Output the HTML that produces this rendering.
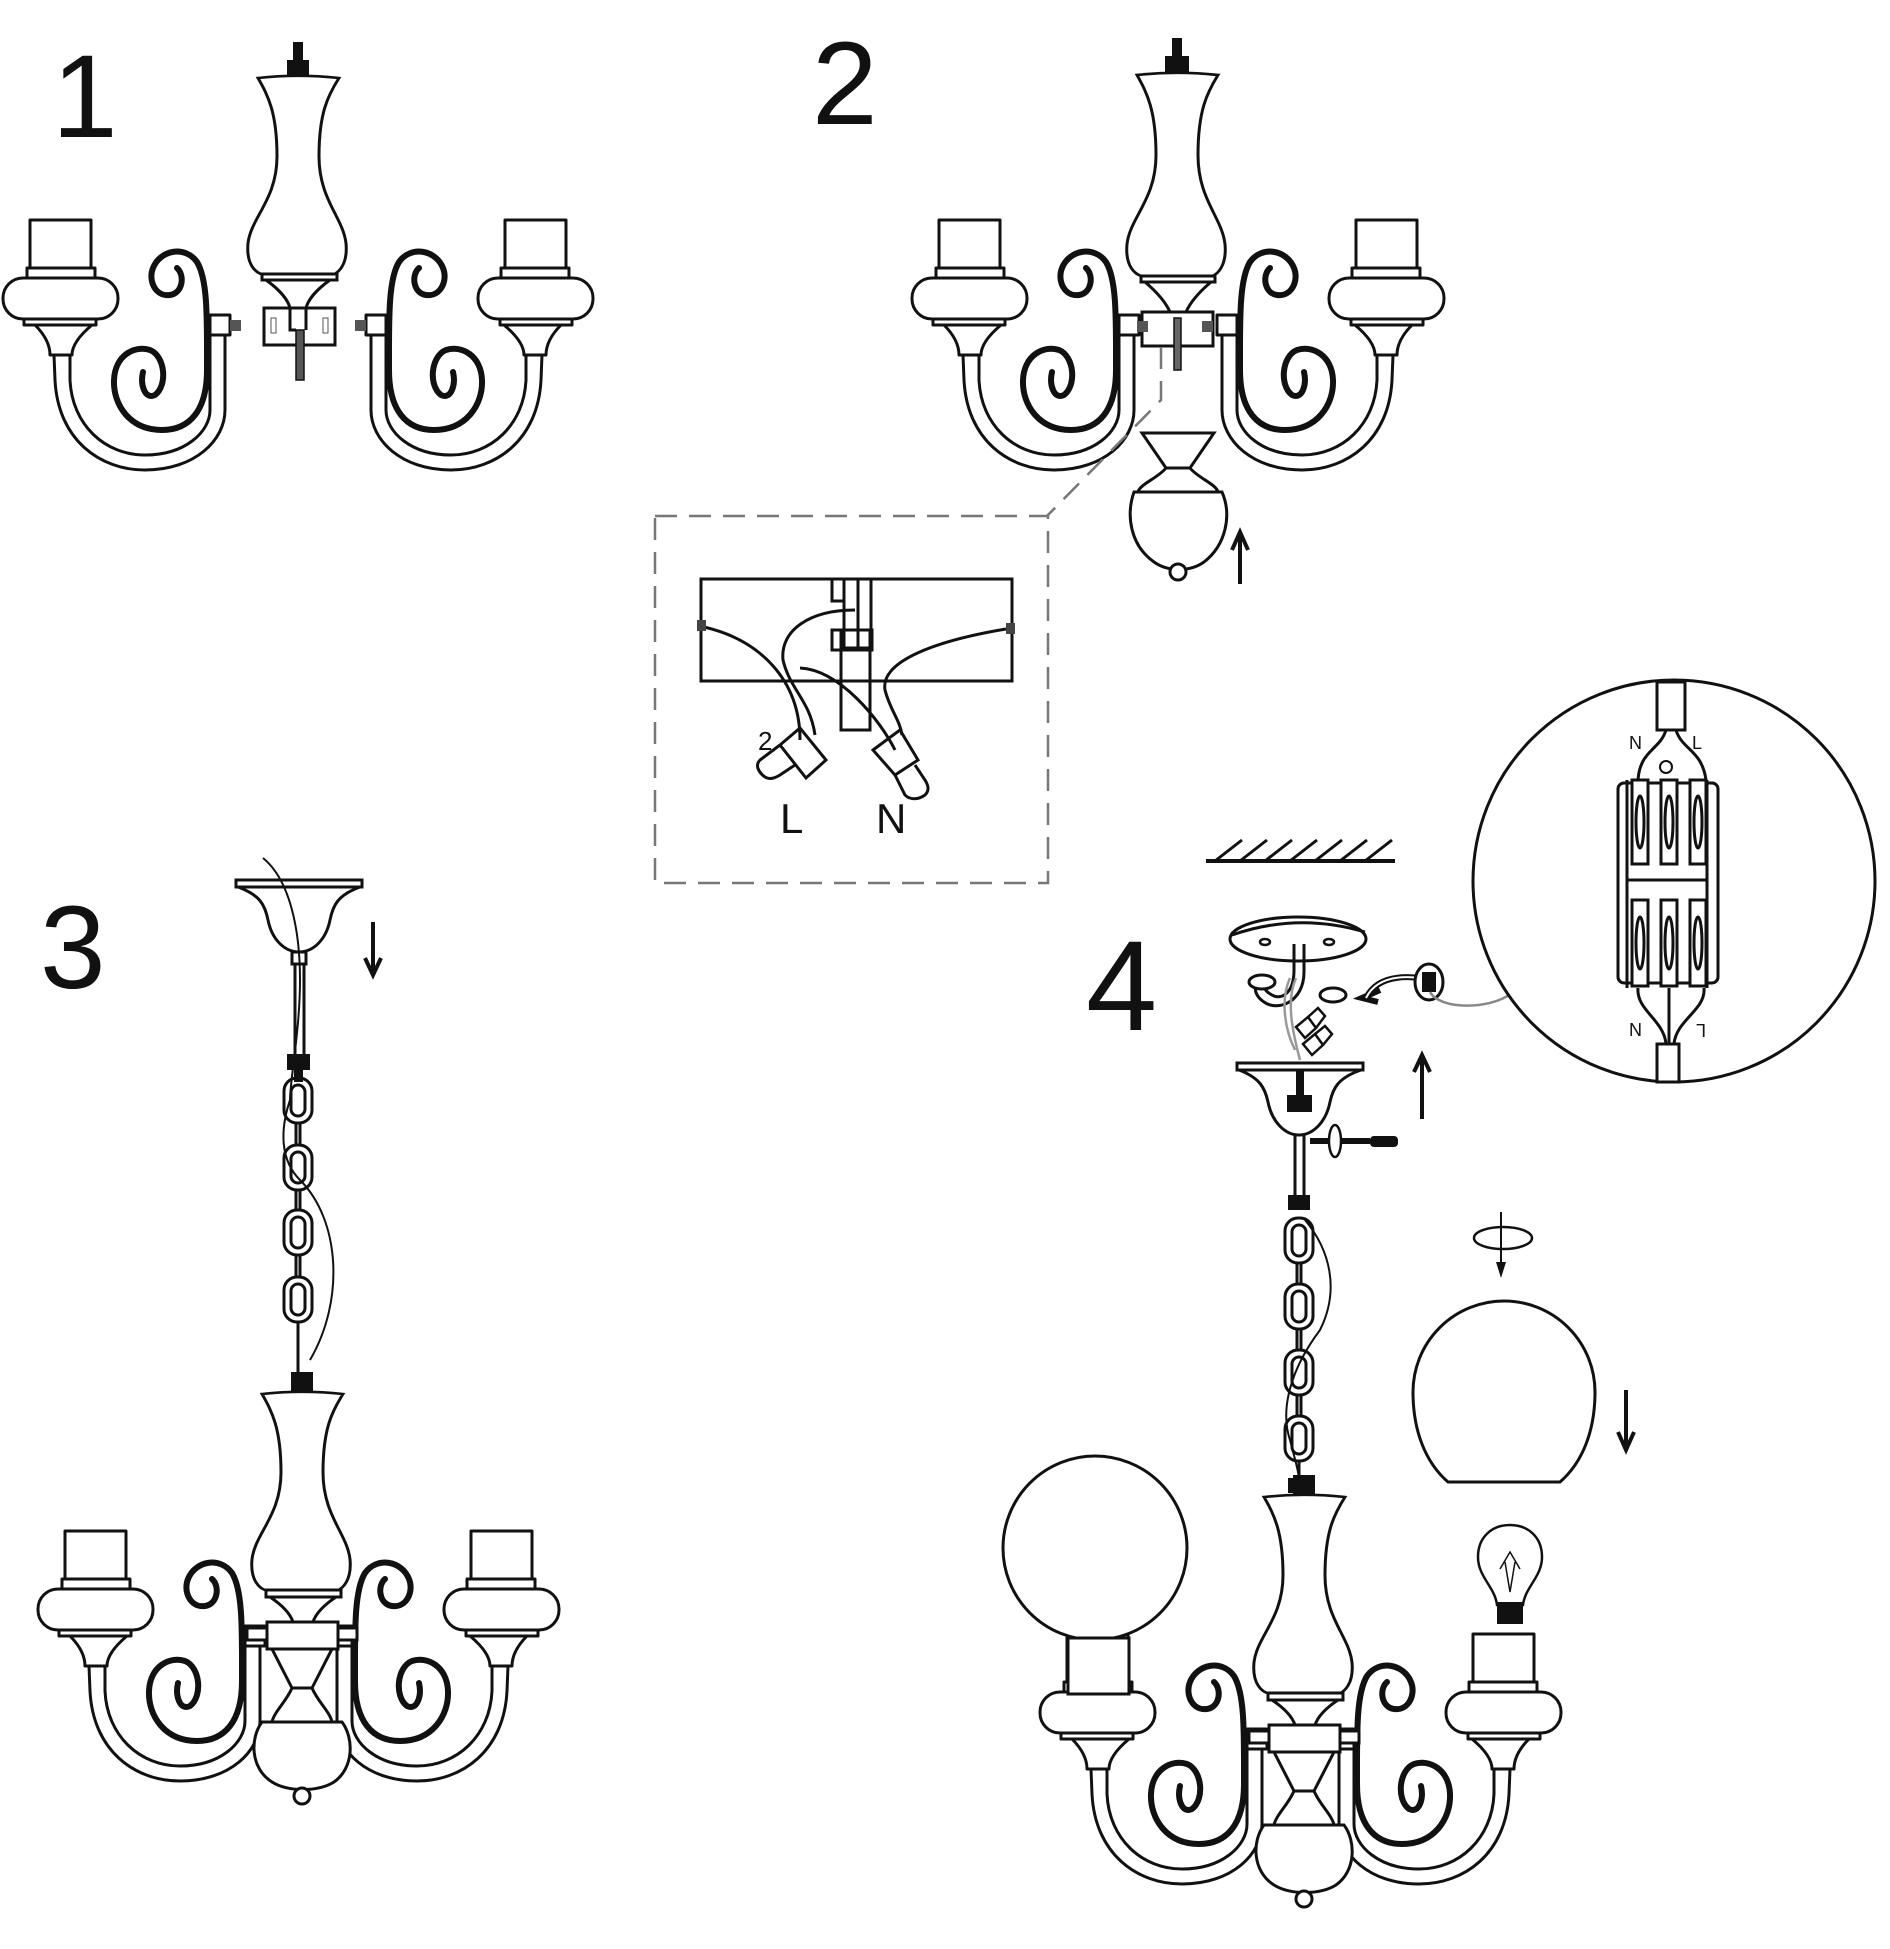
<!DOCTYPE html>
<html><head><meta charset="utf-8"><style>
html,body{margin:0;padding:0;background:#fff}
svg{display:block}
text{font-family:"Liberation Sans",sans-serif;fill:#111}
</style></head><body>
<svg width="1890" height="1949" viewBox="0 0 1890 1949" xmlns="http://www.w3.org/2000/svg">
<defs>
<g id="arm" fill="#fff" stroke="#111" stroke-width="3" stroke-linejoin="round">
  <path d="M54,355 L55,380 C58,440 100,470 145,470 C195,470 225,440 225,410 L225,333 L210,333 L210,410 C210,432 185,455 145,455 C105,455 72,425 70,380 L70,355 Z"/>
  <rect x="210" y="315" width="20" height="20"/>
  <path d="M177,268 C185,275 183,293 170,295 C155,297 148,280 153,268 C160,250 185,245 197,262 C208,280 207,320 207,370 C207,410 190,430 162,430 C130,430 113,405 114,380 C115,355 135,345 150,350 C165,356 168,385 155,395 C145,400 140,385 143,372" fill="none" stroke-width="6" stroke-linecap="round"/>
  <path d="M35,325 C45,335 50,345 50,355 L72,355 C72,345 80,335 92,325 Z"/>
  <rect x="24" y="319" width="72" height="6"/>
  <rect x="3" y="278" width="115" height="41" rx="20"/>
  <rect x="27" y="268" width="68" height="10"/>
  <rect x="30" y="220" width="61" height="48"/>
</g>
<path id="vase" fill="#fff" stroke="#111" stroke-width="3" d="M-40,0 Q0,-5 41,0 C30,20 21,40 21,90 C21,140 45,160 48,190 C50,215 40,224 35,226 L-35,226 C-42,224 -52,215 -50,190 C-47,160 -21,140 -21,90 C-21,40 -30,20 -40,0 Z"/>
<g id="chainlink" fill="none" stroke="#111" stroke-width="3">
  <rect x="-14" y="0" width="28" height="45" rx="13"/>
  <rect x="-7" y="7" width="14" height="31" rx="7"/>
</g>
</defs>

<text x="52" y="137" font-size="118">1</text>
<text x="812" y="124" font-size="118">2</text>
<text x="40" y="988" font-size="118">3</text>
<text x="1086" y="1030" font-size="128">4</text>

<!-- FIG 1 -->
<use href="#arm"/>
<use href="#arm" transform="translate(596,0) scale(-1,1)"/>
<rect x="293" y="42" width="10" height="20" fill="#111"/>
<rect x="287" y="60" width="22" height="16" fill="#111"/>
<use href="#vase" transform="translate(298,78) scale(1,0.87)"/>
<rect x="262" y="274" width="75" height="6" fill="#fff" stroke="#111" stroke-width="3"/>
<path d="M266,280 C280,290 288,300 290,308 M330,280 C316,290 308,300 306,308" fill="none" stroke="#111" stroke-width="3"/>
<rect x="264" y="308" width="71" height="37" fill="#fff" stroke="#111" stroke-width="3"/>
<rect x="296" y="330" width="8" height="50" fill="#555" stroke="#111" stroke-width="1.5"/>
<path d="M290,308 L290,330 L296,330 M306,308 L306,330" fill="none" stroke="#111" stroke-width="3"/>
<rect x="271" y="318" width="5" height="15" fill="none" stroke="#555" stroke-width="1"/>
<rect x="323" y="318" width="5" height="15" fill="none" stroke="#555" stroke-width="1"/>
<rect x="230" y="320" width="11" height="11" fill="#555"/>
<rect x="355" y="320" width="11" height="11" fill="#555"/>

<!-- FIG 2 -->
<g transform="translate(0,-12)">
<use href="#arm" transform="translate(909,12)"/>
<use href="#arm" transform="translate(1447,12) scale(-1,1)"/>
<rect x="1172" y="50" width="10" height="20" fill="#111"/>
<rect x="1165" y="68" width="24" height="18" fill="#111"/>
<use href="#vase" transform="translate(1177,87) scale(1,0.89)"/>
<rect x="1141" y="288" width="74" height="6" fill="#fff" stroke="#111" stroke-width="3"/>
<path d="M1145,294 C1158,305 1166,315 1170,324 M1211,294 C1198,305 1190,315 1186,324" fill="none" stroke="#111" stroke-width="3"/>
<rect x="1142" y="324" width="71" height="34" fill="#fff" stroke="#111" stroke-width="3"/>
<rect x="1174" y="330" width="7" height="52" fill="#666" stroke="#111" stroke-width="1.5"/>
<rect x="1137" y="333" width="11" height="11" fill="#555"/>
<rect x="1202" y="333" width="11" height="11" fill="#555"/>
</g>
<path d="M1161,347 L1161,400 L1047,516" fill="none" stroke="#777" stroke-width="2.5" stroke-dasharray="22,12"/>
<g fill="#fff" stroke="#111" stroke-width="3">
  <path d="M1142,433 L1214,433 L1190,468 L1166,468 Z"/>
  <path d="M1166,468 L1190,468 C1198,478 1216,484 1218,492 L1138,492 C1140,484 1158,478 1166,468 Z"/>
  <path d="M1134,492 L1222,492 C1232,515 1226,545 1204,562 C1190,572 1168,572 1154,562 C1130,545 1126,515 1134,492 Z"/>
  <circle cx="1178" cy="572" r="8"/>
</g>
<path d="M1240,584 L1240,536 M1232,550 L1240,532 L1248,550" fill="none" stroke="#111" stroke-width="4"/>

<!-- dashed box -->
<rect x="655" y="516" width="393" height="367" fill="none" stroke="#777" stroke-width="2.5" stroke-dasharray="22,12"/>
<g fill="none" stroke="#111" stroke-width="3">
  <rect x="701" y="579" width="311" height="102"/>
  <rect x="832" y="579" width="12" height="22"/>
  <path d="M844,579 L844,648 L871,648 L871,579 M858,579 L858,648"/>
  <rect x="832" y="630" width="40" height="20"/>
  <rect x="841" y="630" width="29" height="100"/>
  <path d="M704,627 C760,640 800,680 800,740 M855,610 C810,610 780,630 783,660 C790,690 810,700 815,735"/>
  <path d="M800,668 C840,670 880,720 895,750 M1006,629 C940,640 880,660 885,690 C890,710 900,720 902,735"/>
  <path d="M780,745 L800,728 L826,760 L806,778 Z M780,745 L760,760 C755,765 758,772 765,777 C770,780 775,778 780,775 L795,765"/>
  <path d="M873,750 L900,730 L918,760 L895,775 Z M895,775 L905,795 C910,800 918,800 925,795 C930,790 928,785 925,780 L915,765"/>
</g>
<rect x="697" y="620" width="9" height="11" fill="#444"/>
<rect x="1006" y="623" width="9" height="11" fill="#444"/>
<text x="758" y="750" font-size="26">2</text>
<text x="780" y="833" font-size="42">L</text>
<text x="876" y="833" font-size="42">N</text>

<!-- FIG 3 -->
<g id="fig3">
<use href="#arm" transform="translate(35,1311)"/>
<use href="#arm" transform="translate(562,1311) scale(-1,1)"/>
<rect x="291" y="1372" width="22" height="22" fill="#111"/>
<use href="#vase" transform="translate(302,1394) scale(1,0.87)"/>
<rect x="266" y="1590" width="75" height="7" fill="#fff" stroke="#111" stroke-width="3"/>
<path d="M270,1597 C282,1605 290,1613 293,1622 M336,1597 C324,1605 316,1613 313,1622" fill="none" stroke="#111" stroke-width="3"/>
<g fill="#fff" stroke="#111" stroke-width="3">
  <rect x="247" y="1628" width="110" height="12"/>
  <rect x="267" y="1622" width="71" height="27"/>
  <path d="M272,1649 L332,1649 L312,1688 L292,1688 Z"/>
  <path d="M292,1688 L312,1688 C318,1702 330,1712 332,1722 L272,1722 C274,1712 286,1702 292,1688 Z"/>
  <path d="M262,1722 L342,1722 C354,1738 354,1768 334,1782 C318,1792 288,1792 272,1782 C250,1768 250,1738 262,1722 Z"/>
  <circle cx="302" cy="1796" r="8"/>
</g>
</g>
<g fill="#fff" stroke="#111" stroke-width="3">
  <rect x="236" y="880" width="126" height="7"/>
  <path d="M238,887 C260,895 265,905 268,920 C272,940 285,952 299,952 C313,952 326,940 330,920 C333,905 338,895 360,887 Z"/>
  <rect x="292" y="952" width="14" height="12"/>
  <path d="M295,964 L295,1054 M304,964 L304,1054"/>
</g>
<rect x="287" y="1054" width="23" height="16" fill="#111"/>
<rect x="294" y="1070" width="9" height="12" fill="#111"/>
<use href="#chainlink" transform="translate(298,1078)"/>
<use href="#chainlink" transform="translate(298,1145)"/>
<use href="#chainlink" transform="translate(298,1210)"/>
<use href="#chainlink" transform="translate(298,1277)"/>
<path d="M296,1123 L296,1145 M300,1123 L300,1145 M296,1190 L296,1210 M300,1190 L300,1210 M296,1255 L296,1277 M300,1255 L300,1277 M298,1322 L298,1372" stroke="#111" stroke-width="3" fill="none"/>
<path d="M263,858 C290,880 300,930 300,980 C300,1030 290,1080 290,1100 C280,1130 280,1160 300,1180 C340,1220 345,1300 310,1360" fill="none" stroke="#111" stroke-width="2"/>
<path d="M373,922 L373,972 M365,958 L373,975 L381,958" fill="none" stroke="#111" stroke-width="4"/>

<!-- FIG 4 -->
<use href="#fig3" transform="translate(1002,103)"/>
<circle cx="1095" cy="1548" r="92" fill="#fff" stroke="#111" stroke-width="3"/>
<rect x="1068" y="1638" width="61" height="56" fill="#fff" stroke="#111" stroke-width="3"/>
<g fill="#fff" stroke="#111" stroke-width="2.5">
  <path d="M1497,1605 C1495,1587 1478,1577 1478,1557 C1478,1537 1492,1525 1510,1525 C1528,1525 1542,1537 1542,1557 C1542,1577 1525,1587 1523,1605 Z"/>
  <path d="M1500,1569 L1510,1552 L1520,1569 M1505,1562 L1510,1592 L1515,1562" fill="none" stroke-width="1.5"/>
</g>
<rect x="1497" y="1602" width="26" height="22" fill="#111"/>
<path d="M1206,861 L1395,861" stroke="#111" stroke-width="4"/>
<path d="M1215,861 L1242,840 M1240,861 L1267,840 M1265,861 L1292,840 M1290,861 L1317,840 M1315,861 L1342,840 M1340,861 L1367,840 M1365,861 L1392,840" stroke="#111" stroke-width="3"/>
<ellipse cx="1298" cy="939" rx="68" ry="22" fill="#fff" stroke="#111" stroke-width="3"/>
<path d="M1232,935 Q1298,912 1365,932" fill="none" stroke="#111" stroke-width="3"/>
<ellipse cx="1265" cy="942" rx="5" ry="3" fill="#fff" stroke="#111" stroke-width="2.5"/>
<ellipse cx="1329" cy="942" rx="5" ry="3" fill="#fff" stroke="#111" stroke-width="2.5"/>
<path d="M1294,944 L1294,970 C1294,995 1280,1000 1272,995 C1262,990 1262,982 1266,978 M1304,944 L1304,972 C1304,1002 1278,1012 1264,1002 C1252,994 1254,982 1260,978" fill="none" stroke="#111" stroke-width="3"/>
<ellipse cx="1262" cy="982" rx="13" ry="7" fill="#fff" stroke="#111" stroke-width="3"/>
<ellipse cx="1333" cy="995" rx="13" ry="7" fill="#fff" stroke="#111" stroke-width="3"/>
<path d="M1290,978 C1280,1000 1285,1030 1295,1050 M1296,978 C1286,1000 1292,1030 1300,1060" fill="none" stroke="#999" stroke-width="2.5"/>
<g fill="#fff" stroke="#111" stroke-width="2.5">
  <path d="M1296,1027 L1308,1017 L1316,1028 L1305,1038 Z M1308,1017 L1318,1008 L1325,1016 L1316,1028"/>
  <path d="M1303,1044 L1315,1034 L1323,1045 L1312,1055 Z M1315,1034 L1325,1026 L1332,1034 L1323,1045"/>
</g>
<g fill="#fff" stroke="#111" stroke-width="3">
  <rect x="1237" y="1063" width="126" height="7"/>
  <path d="M1239,1070 C1260,1078 1265,1088 1268,1102 C1272,1122 1285,1135 1299,1135 C1313,1135 1326,1122 1330,1102 C1333,1088 1338,1078 1361,1070 Z"/>
  <path d="M1295,1135 L1295,1200 M1304,1135 L1304,1200"/>
</g>
<rect x="1296" y="1071" width="8" height="30" fill="#111"/>
<rect x="1287" y="1095" width="25" height="17" fill="#111"/>
<path d="M1310,1141 L1330,1141 M1340,1141 L1370,1141" stroke="#111" stroke-width="6"/>
<rect x="1370" y="1136" width="28" height="11" rx="4" fill="#111"/>
<ellipse cx="1335" cy="1141" rx="6" ry="16" fill="none" stroke="#111" stroke-width="2.5"/>
<rect x="1288" y="1195" width="22" height="15" fill="#111"/>
<use href="#chainlink" transform="translate(1299,1218)"/>
<use href="#chainlink" transform="translate(1299,1284)"/>
<use href="#chainlink" transform="translate(1299,1350)"/>
<use href="#chainlink" transform="translate(1299,1416)"/>
<path d="M1297,1263 L1297,1284 M1301,1263 L1301,1284 M1297,1329 L1297,1350 M1301,1329 L1301,1350 M1297,1395 L1297,1416 M1301,1395 L1301,1416 M1299,1461 L1299,1483" stroke="#111" stroke-width="3" fill="none"/>
<rect x="1288" y="1478" width="22" height="15" fill="#111"/>
<path d="M1305,1220 C1330,1250 1340,1290 1320,1330 C1290,1370 1280,1410 1290,1440 C1295,1460 1300,1475 1299,1485" fill="none" stroke="#111" stroke-width="2"/>
<path d="M1422,1119 L1422,1058 M1414,1072 L1422,1055 L1430,1072" fill="none" stroke="#111" stroke-width="4"/>
<path d="M1380,990 L1362,998 L1378,1002 M1366,998 C1375,980 1395,975 1420,978" fill="none" stroke="#111" stroke-width="6"/>
<path d="M1366,998 C1375,980 1395,975 1420,978" fill="none" stroke="#fff" stroke-width="2"/>
<ellipse cx="1429" cy="982" rx="14" ry="18" fill="#fff" stroke="#111" stroke-width="3"/>
<rect x="1422" y="972" width="14" height="20" fill="#111"/>
<path d="M1430,992 C1440,1010 1490,1010 1512,993" fill="none" stroke="#888" stroke-width="2.5"/>
<circle cx="1674" cy="881" r="201" fill="#fff" stroke="#111" stroke-width="3"/>
<g fill="#fff" stroke="#111" stroke-width="3">
  <rect x="1657" y="682" width="28" height="48"/>
  <rect x="1618" y="783" width="100" height="200" rx="6"/>
  <path d="M1627,780 L1627,988 M1707,780 L1707,988 M1627,880 L1707,880"/>
  <rect x="1632" y="780" width="16" height="84"/>
  <rect x="1661" y="780" width="16" height="84"/>
  <rect x="1690" y="780" width="16" height="84"/>
  <rect x="1632" y="900" width="16" height="86"/>
  <rect x="1661" y="900" width="16" height="86"/>
  <rect x="1690" y="900" width="16" height="86"/>
  <ellipse cx="1640" cy="822" rx="4" ry="26"/>
  <ellipse cx="1669" cy="822" rx="4" ry="26"/>
  <ellipse cx="1698" cy="822" rx="4" ry="26"/>
  <ellipse cx="1640" cy="943" rx="4" ry="26"/>
  <ellipse cx="1669" cy="943" rx="4" ry="26"/>
  <ellipse cx="1698" cy="943" rx="4" ry="26"/>
  <path d="M1666,730 C1660,750 1640,750 1638,780 M1676,730 C1682,750 1702,750 1706,780" fill="none"/>
  <path d="M1638,988 C1636,1010 1664,1020 1666,1044 M1669,988 L1669,1044 M1704,988 C1706,1010 1676,1020 1674,1044" fill="none"/>
  <rect x="1657" y="1044" width="22" height="38"/>
</g>
<circle cx="1666" cy="767" r="6" fill="none" stroke="#111" stroke-width="2"/>
<text x="1629" y="749" font-size="18">N</text>
<text x="1692" y="749" font-size="18">L</text>
<text x="1629" y="1036" font-size="18">N</text>
<text x="1694" y="1036" font-size="18" transform="rotate(180 1700 1030)">L</text>
<ellipse cx="1503" cy="1238" rx="29" ry="11" fill="none" stroke="#111" stroke-width="2.5"/>
<path d="M1501,1212 L1501,1268" stroke="#111" stroke-width="2"/>
<path d="M1496,1262 L1501,1278 L1506,1262 Z" fill="#111"/>
<path d="M1448,1482 C1425,1462 1413,1430 1413,1392 A91,91 0 1 1 1595,1392 C1595,1430 1583,1462 1560,1482 Z" fill="#fff" stroke="#111" stroke-width="3"/>
<path d="M1626,1390 L1626,1445 M1618,1432 L1626,1450 L1634,1432" fill="none" stroke="#111" stroke-width="4"/>
</svg>
</body></html>
